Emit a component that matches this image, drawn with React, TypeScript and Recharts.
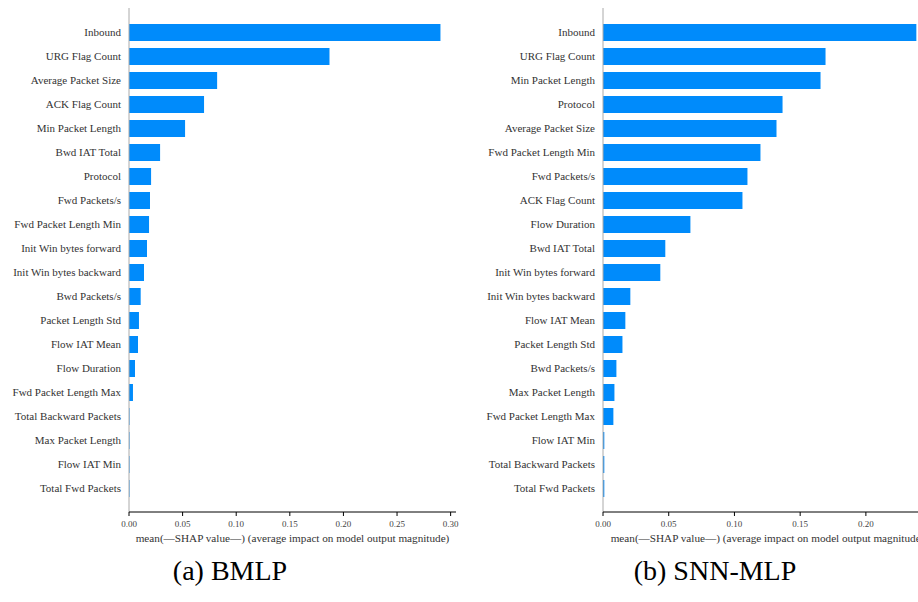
import { BarChart, Bar, XAxis, YAxis, Label } from 'recharts';

const bmlpFeatures = [
  'Inbound', 'URG Flag Count', 'Average Packet Size', 'ACK Flag Count', 'Min Packet Length',
  'Bwd IAT Total', 'Protocol', 'Fwd Packets/s', 'Fwd Packet Length Min', 'Init Win bytes forward',
  'Init Win bytes backward', 'Bwd Packets/s', 'Packet Length Std', 'Flow IAT Mean', 'Flow Duration',
  'Fwd Packet Length Max', 'Total Backward Packets', 'Max Packet Length', 'Flow IAT Min', 'Total Fwd Packets',
];
const bmlpShap = [
  0.2905, 0.187, 0.0822, 0.070, 0.0523, 0.029, 0.0206, 0.0196, 0.0187, 0.0168,
  0.014, 0.0109, 0.0093, 0.0084, 0.0056, 0.0037, 0.0005, 0.0005, 0.0005, 0.0005,
];

const snnFeatures = [
  'Inbound', 'URG Flag Count', 'Min Packet Length', 'Protocol', 'Average Packet Size',
  'Fwd Packet Length Min', 'Fwd Packets/s', 'ACK Flag Count', 'Flow Duration', 'Bwd IAT Total',
  'Init Win bytes forward', 'Init Win bytes backward', 'Flow IAT Mean', 'Packet Length Std', 'Bwd Packets/s',
  'Max Packet Length', 'Fwd Packet Length Max', 'Flow IAT Min', 'Total Backward Packets', 'Total Fwd Packets',
];
const snnShap = [
  0.2384, 0.1693, 0.1655, 0.1366, 0.132, 0.1198, 0.1099, 0.1061, 0.0665, 0.0474,
  0.0436, 0.0208, 0.017, 0.0148, 0.0102, 0.0087, 0.0079, 0.001, 0.001, 0.001,
];

const bmlpTicks = [0, 0.05, 0.1, 0.15, 0.2, 0.25, 0.3];
const snnTicks = [0, 0.05, 0.1, 0.15, 0.2];

const xTitle = 'mean(—SHAP value—) (average impact on model output magnitude)';
const serif = '"Liberation Serif", "DejaVu Serif", serif';

// single-line tick labels (recharts wraps long category names otherwise)
const FeatureTick = ({ x, y, payload }: any) => (
  <text x={x} y={y} dy={4} textAnchor="end" fill="#333" style={{ fontFamily: serif, fontSize: 11 }}>
    {payload.value}
  </text>
);

const ValueTick = ({ x, y, payload }: any) => (
  <text x={x} y={y} dy={9} textAnchor="middle" fill="#444" style={{ fontFamily: serif, fontSize: 9 }}>
    {Number(payload.value).toFixed(2)}
  </text>
);

type PanelProps = {
  features: string[];
  values: number[];
  ticks: number[];
  max: number;
  width: number;
  left: number;
};

const ShapPanel = ({ features, values, ticks, max, width, left }: PanelProps) => {
  const data = features.map((name, i) => ({ name, value: values[i] }));
  return (
    <div style={{ position: 'absolute', left, top: 0 }}>
      <BarChart
        layout="vertical"
        width={width}
        height={560}
        data={data}
        margin={{ top: 8, right: 10, bottom: 8, left: 0 }}
      >
        <YAxis
          type="category"
          dataKey="name"
          width={129}
          tickLine={false}
          axisLine={{ stroke: '#aaa' }}
          padding={{ top: 12, bottom: 12 }}
          tickMargin={2}
          interval={0}
          tick={<FeatureTick />}
        />
        <XAxis
          type="number"
          domain={[0, max]}
          ticks={ticks}
          allowDataOverflow
          height={40}
          tickSize={4}
          tickMargin={2}
          axisLine={{ stroke: '#000' }}
          tickLine={{ stroke: '#000' }}
          tick={<ValueTick />}
        >
          <Label
            value={xTitle}
            position="insideBottom"
            offset={10}
            fill="#333"
            style={{ fontFamily: serif, fontSize: 11.2 }}
          />
        </XAxis>
        <Bar dataKey="value" fill="#008bfb" barSize={17} isAnimationActive={false} />
      </BarChart>
    </div>
  );
};

const captionStyle = {
  position: 'absolute' as const,
  top: 554,
  width: 300,
  textAlign: 'center' as const,
  fontFamily: serif,
  fontSize: 28,
  color: '#000',
  lineHeight: '34px',
};

export default function App() {
  return (
    <div
      style={{
        position: 'fixed',
        left: 0,
        top: 0,
        width: 918,
        height: 602,
        overflow: 'hidden',
        background: '#fff',
      }}
    >
      <ShapPanel features={bmlpFeatures} values={bmlpShap} ticks={bmlpTicks} max={0.305} width={466} left={0} />
      <ShapPanel features={snnFeatures} values={snnShap} ticks={snnTicks} max={0.2503} width={468} left={474} />
      <div style={{ ...captionStyle, left: 230 - 150 }}>(a) BMLP</div>
      <div style={{ ...captionStyle, left: 715 - 150 }}>(b) SNN-MLP</div>
    </div>
  );
}
